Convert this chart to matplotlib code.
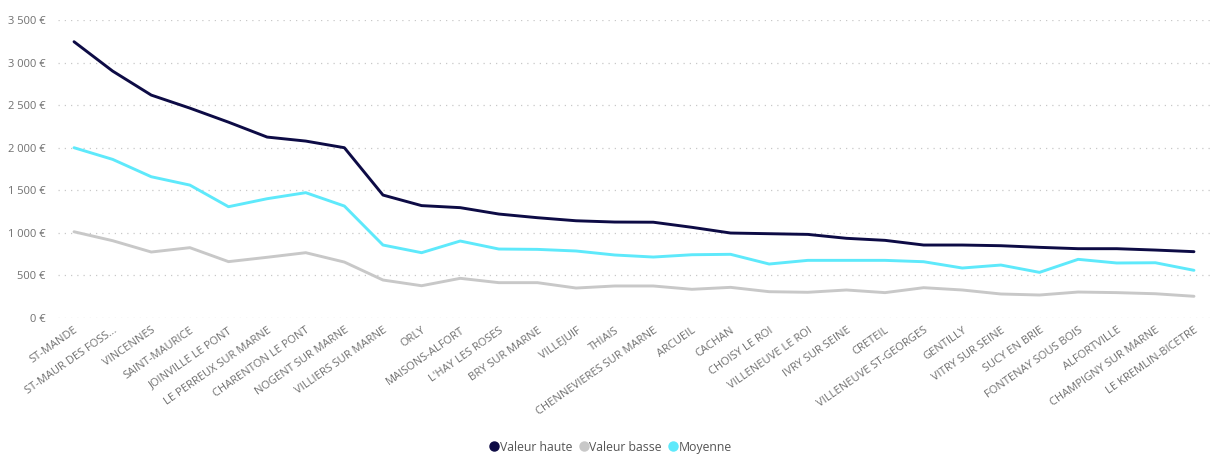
import matplotlib
matplotlib.use("Agg")
import matplotlib.pyplot as plt
from matplotlib.ticker import FuncFormatter
from matplotlib.lines import Line2D

communes = ["ST-MANDE", "ST-MAUR DES FOSS...", "VINCENNES", "SAINT-MAURICE",
            "JOINVILLE LE PONT", "LE PERREUX SUR MARNE", "CHARENTON LE PONT",
            "NOGENT SUR MARNE", "VILLIERS SUR MARNE", "ORLY", "MAISONS-ALFORT",
            "L'HAY LES ROSES", "BRY SUR MARNE", "VILLEJUIF", "THIAIS",
            "CHENNEVIERES SUR MARNE", "ARCUEIL", "CACHAN", "CHOISY LE ROI",
            "VILLENEUVE LE ROI", "IVRY SUR SEINE", "CRETEIL",
            "VILLENEUVE ST-GEORGES", "GENTILLY", "VITRY SUR SEINE",
            "SUCY EN BRIE", "FONTENAY SOUS BOIS", "ALFORTVILLE",
            "CHAMPIGNY SUR MARNE", "LE KREMLIN-BICETRE"]

valeur_haute = [3245, 2900, 2618, 2465, 2300, 2125, 2078, 2000, 1444, 1320,
                1296, 1221, 1178, 1142, 1127, 1125, 1065, 998, 990, 982,
                936, 912, 857, 857, 849, 830, 814, 814, 798, 779]
valeur_basse = [1013, 908, 775, 826, 662, 713, 767, 657, 446, 379,
                466, 415, 415, 352, 376, 376, 337, 360, 309, 302,
                329, 298, 356, 329, 282, 270, 305, 298, 285, 255]
moyenne = [2000, 1863, 1659, 1561, 1307, 1401, 1472, 1315, 857, 767,
           904, 810, 806, 787, 740, 716, 743, 748, 634, 677,
           677, 677, 661, 587, 622, 536, 689, 646, 649, 560]

series_names = ["Valeur haute", "Valeur basse", "Moyenne"]
colors = ["#0d0b45", "#c8c8c8", "#5ee9fb"]

plt.rcParams['font.family'] = ['Open Sans', 'DejaVu Sans']

fig = plt.figure(figsize=(12.29, 4.61), dpi=100)
ax = fig.add_axes([58/1229, (461-318)/461, (1210-58)/1229, (318-20)/461])

x = list(range(len(communes)))
zorders = [4, 3, 3]
for vals, c, z in zip([valeur_haute, valeur_basse, moyenne], colors, zorders):
    ax.plot(x, vals, color=c, lw=2.1, solid_joinstyle='round',
            solid_capstyle='round', zorder=z)

ax.set_ylim(0, 3500)
ax.set_xlim(-0.415, len(communes) - 1 + 0.415)
ax.set_yticks(range(0, 3501, 500))
ax.yaxis.set_major_formatter(FuncFormatter(lambda v, p: f"{int(v):,} €".replace(",", " ")))
ax.grid(axis='y', color='#c8c8c8', linestyle=(0, (1, 4)), lw=0.9)
ax.set_axisbelow(True)
for s in ax.spines.values():
    s.set_visible(False)
ax.tick_params(axis='both', length=0, colors='#707070', labelsize=8)
ax.tick_params(axis='y', pad=9)
ax.set_xticks(x)
ax.set_xticklabels(communes, rotation=35, ha='right', rotation_mode='anchor')
ax.tick_params(axis='x', pad=5)

handles = [Line2D([], [], marker='o', color=c, linestyle='none', markersize=6.5) for c in colors]
fig.legend(handles, series_names, loc='center', bbox_to_anchor=(609/1229, 1 - 447/461),
           ncol=3, frameon=False, fontsize=8.8, handletextpad=-0.2, columnspacing=0.3,
           handlelength=1.3, labelcolor='#555555')

fig.savefig("out.png", dpi=100)
